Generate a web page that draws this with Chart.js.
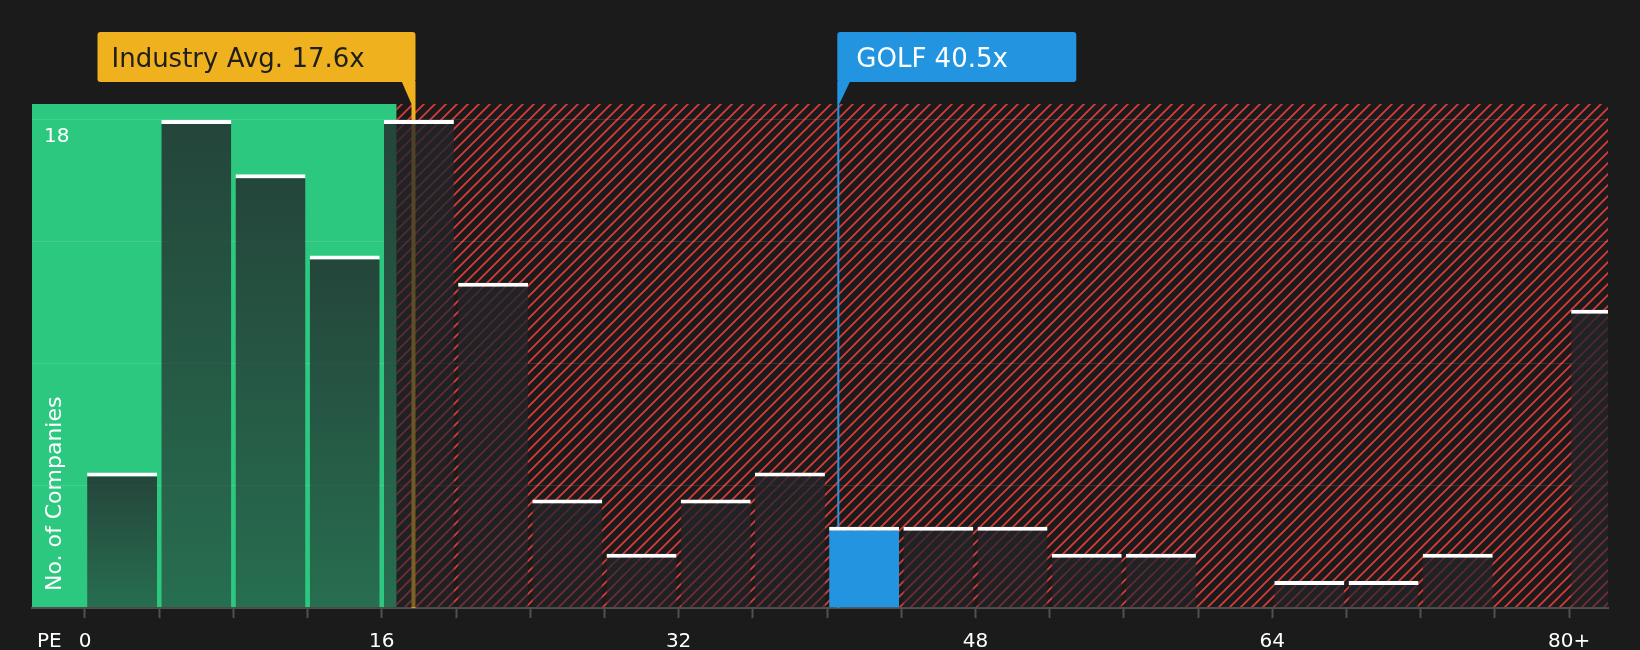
<!DOCTYPE html>
<html>
<head>
<meta charset="utf-8">
<title>PE ratio vs industry</title>
<script src="https://cdn.jsdelivr.net/npm/chart.js@4/dist/chart.umd.min.js"></script>
<style>
  html, body { margin: 0; padding: 0; background: #1b1b1b; }
  #wrap { width: 1640px; height: 650px; position: relative; }
</style>
</head>
<body>
<div id="wrap"><canvas id="chart"></canvas></div>
<script>
// histogram buckets: lower edge of each 4x PE bucket (last one is 80+)
const binStarts = [0, 4, 8, 12, 16, 20, 24, 28, 32, 36, 40, 44, 48, 52, 56, 60, 64, 68, 72, 76, 80];
const companyCounts = [5, 18, 16, 13, 18, 12, 4, 2, 4, 5, 3, 3, 3, 2, 2, 0, 1, 1, 2, 0, 11];

const xTickValues = [0, 4, 8, 12, 16, 20, 24, 28, 32, 36, 40, 44, 48, 52, 56, 60, 64, 68, 72, 76, 80];
const xTickLabels = { 0: '0', 16: '16', 32: '32', 48: '48', 64: '64', 80: '80+' };
const yGridValues = [0, 4.5, 9, 13.5, 18];
const yTickLabels = { 18: '18' };

const industryAvg = 17.6;
const companyPE = 40.5;
const companyName = 'GOLF';
const fairZoneEnd = 16.8;

const BG = '#1b1b1b';
const GREEN = '#2dc87f';
const RED = '#d93a3a';
const ORANGE = '#efb11e';
const BLUE = '#2394e0';
const FONT = '"DejaVu Sans", Verdana, sans-serif';

const binWidth = 4;
const golfIndex = binStarts.findIndex(b => companyPE >= b && companyPE < b + binWidth);

Chart.defaults.font.family = FONT;
Chart.defaults.color = '#ffffff';

function hatchPattern(ctx) {
    const s = 11;
    const tile = document.createElement('canvas');
    tile.width = s; tile.height = s;
    const t = tile.getContext('2d');
    t.fillStyle = BG;
    t.fillRect(0, 0, s, s);
    t.strokeStyle = RED;
    t.lineWidth = 1.8;
    t.beginPath();
    t.moveTo(-2, s + 2); t.lineTo(s + 2, -2);
    t.moveTo(-2 - s, s + 2); t.lineTo(2, -2);
    t.moveTo(s - 2, s + 2); t.lineTo(2 * s + 2, -2);
    t.stroke();
    return ctx.createPattern(tile, 'repeat');
}

function barFill(c) {
    if (c.type !== 'data') return 'rgba(34,36,41,0.7)';
    if (c.dataIndex === golfIndex) return BLUE;
    const { chart } = c;
    if (!chart.chartArea) return 'rgba(34,36,41,0.7)';
    const y = chart.scales.y;
    const top = y.getPixelForValue(c.raw.y);
    const bottom = y.getPixelForValue(0);
    if (bottom - top < 1) return 'rgba(34,36,41,0.7)';
    const g = chart.ctx.createLinearGradient(0, top, 0, bottom);
    g.addColorStop(0, 'rgba(34,36,41,0.8)');
    g.addColorStop(1, 'rgba(34,36,41,0.55)');
    return g;
}

function drawCallout(ctx, box, text, fill, textColor, pointer) {
    ctx.fillStyle = fill;
    ctx.beginPath();
    ctx.roundRect(box.x, box.y, box.w, box.h, 3);
    ctx.fill();
    ctx.beginPath();
    pointer.forEach(([px, py], i) => i ? ctx.lineTo(px, py) : ctx.moveTo(px, py));
    ctx.closePath();
    ctx.fill();
    ctx.fillStyle = textColor;
    ctx.font = '26px ' + FONT;
    ctx.textAlign = 'left';
    ctx.textBaseline = 'alphabetic';
    ctx.fillText(text, box.x + box.pad, box.y + 34.5);
}

const decorations = {
    id: 'decorations',
    beforeDraw(chart) {
        const { ctx, chartArea: a, scales: { x } } = chart;
        ctx.save();
        ctx.fillStyle = BG;
        ctx.fillRect(0, 0, chart.width, chart.height);
        const split = x.getPixelForValue(fairZoneEnd);
        ctx.fillStyle = GREEN;
        ctx.fillRect(a.left, a.top, split - a.left, a.bottom - a.top);
        ctx.fillStyle = hatchPattern(ctx);
        ctx.fillRect(split, a.top, a.right - split, a.bottom - a.top);
        ctx.restore();
    },
    beforeDatasetsDraw(chart) {
        const { ctx, chartArea: a, scales: { x } } = chart;
        ctx.save();
        ctx.fillStyle = ORANGE;
        ctx.fillRect(x.getPixelForValue(industryAvg), a.top, 4, a.bottom - a.top);
        ctx.fillStyle = BLUE;
        ctx.fillRect(x.getPixelForValue(companyPE) + 1, a.top, 2, a.bottom - a.top);
        ctx.restore();
    },
    afterDraw(chart) {
        const { ctx, chartArea: a, scales: { x } } = chart;
        ctx.save();

        // industry average callout, anchored on its right edge
        const ix = x.getPixelForValue(industryAvg) + 4;
        drawCallout(ctx, { x: ix - 318, y: 32, w: 318, h: 50, pad: 14 },
            'Industry Avg. ' + industryAvg + 'x', ORANGE, '#1e1e1e',
            [[ix - 14, 81], [ix, 81], [ix, a.top], [ix - 4, a.top]]);

        // company callout, anchored on its left edge
        const gx = x.getPixelForValue(companyPE) + 1;
        drawCallout(ctx, { x: gx, y: 32, w: 239, h: 50, pad: 19 },
            companyName + ' ' + companyPE + 'x', BLUE, '#ffffff',
            [[gx, 81], [gx + 13, 81], [gx + 2, a.top], [gx, a.top]]);

        ctx.fillStyle = '#ffffff';
        ctx.font = '20px ' + FONT;
        ctx.textBaseline = 'middle';
        ctx.textAlign = 'left';
        ctx.fillText('PE', 37, 642);

        ctx.translate(55, 591);
        ctx.rotate(-Math.PI / 2);
        ctx.font = '22px ' + FONT;
        ctx.fillText('No. of Companies', 0, 0);
        ctx.restore();
    }
};

new Chart(document.getElementById('chart'), {
    type: 'bar',
    data: {
        datasets: [{
            data: binStarts.map((b, i) => ({ x: b + binWidth / 2, y: companyCounts[i] })),
            backgroundColor: barFill,
            borderColor: '#ffffff',
            borderWidth: { top: 4, right: 0, bottom: 0, left: 0 },
            borderSkipped: 'start',
            categoryPercentage: 1,
            barPercentage: 0.943,
            clip: 0
        }]
    },
    options: {
        responsive: true,
        maintainAspectRatio: false,
        devicePixelRatio: 1,
        animation: false,
        layout: { padding: { top: 104, left: 32, right: 32, bottom: 0 } },
        plugins: { legend: { display: false }, tooltip: { enabled: false } },
        scales: {
            x: {
                type: 'linear',
                offset: false,
                min: -2.857,
                max: 82.1,
                afterBuildTicks: s => { s.ticks = xTickValues.map(v => ({ value: v })); },
                afterFit: s => { s.height = 42; },
                ticks: {
                    autoSkip: false,
                    maxRotation: 0,
                    padding: 12,
                    color: '#ffffff',
                    font: { size: 20 },
                    callback: v => xTickLabels[v] || ''
                },
                grid: {
                    offset: false,
                    drawOnChartArea: false,
                    drawTicks: true,
                    tickLength: 10,
                    tickWidth: 2,
                    tickColor: '#505050'
                },
                border: { display: true, color: '#505050', width: 2 }
            },
            y: {
                min: 0,
                max: 18.59,
                afterBuildTicks: s => { s.ticks = yGridValues.map(v => ({ value: v })); },
                afterFit: s => { s.width = 0; },
                ticks: {
                    mirror: true,
                    padding: 12,
                    labelOffset: 16.5,
                    color: '#ffffff',
                    font: { size: 20 },
                    callback: v => yTickLabels[v] || ''
                },
                grid: {
                    color: 'rgba(255,255,255,0.11)',
                    lineWidth: 1,
                    drawTicks: false
                },
                border: { display: false }
            }
        }
    },
    plugins: [decorations]
});
</script>
</body>
</html>
